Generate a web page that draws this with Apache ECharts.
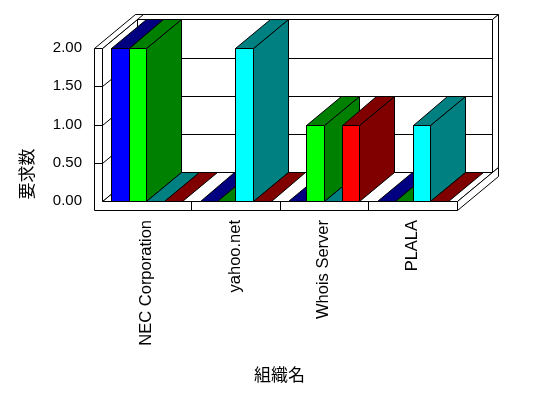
<!DOCTYPE html>
<html>
<head>
<meta charset="utf-8">
<script src="https://cdn.jsdelivr.net/npm/echarts@6/dist/echarts.min.js"></script>
<style>
html,body{margin:0;padding:0;background:#fff;}
#chart{width:548px;height:398px;}
</style>
</head>
<body>
<div id="chart"></div>
<script>
// ---- data ----
const categories = ['NEC Corporation', 'yahoo.net', 'Whois Server', 'PLALA'];
const seriesNames = ['系列1', '系列2', '系列3', '系列4'];
const blueValues = [2, 0, 0, 0];
const limeValues = [2, 0, 1, 0];
const cyanValues = [0, 2, 0, 1];
const redValues  = [0, 0, 1, 0];
const yTicks = [0, 0.5, 1, 1.5, 2];
const xTitle = '組織名';
const yTitle = '要求数';

// ---- styles ----
const frontColors = ['#0000ff', '#00ff00', '#00ffff', '#ff0000'];
const darkColors  = ['#000080', '#008000', '#008080', '#800000'];
const DX = 34.7, DY = -28.7;   // depth vector
const TX = 6, TY = -5;         // back wall thickness
const WALL = 8;                // left wall thickness
const FLOOR = 9;               // floor thickness
const FONT = '"Liberation Sans", Arial, sans-serif';
const CJK = '"Noto Sans CJK JP", sans-serif';

const allValues = [blueValues, limeValues, cyanValues, redValues];

function px(v) { return Math.round(v) + 0.5; }
function poly(points, fill, z2) {
  return {
    type: 'polygon',
    z2: z2 || 0,
    shape: { points: points.map(p => [px(p[0]), px(p[1])]) },
    style: { fill: fill, stroke: '#000', lineWidth: 1 }
  };
}
function line(x1, y1, x2, y2, z2) {
  return {
    type: 'line',
    z2: z2 || 1,
    shape: { x1: px(x1), y1: px(y1), x2: px(x2), y2: px(y2) },
    style: { stroke: '#000', lineWidth: 1 }
  };
}

function renderFrame(params, api) {
  const cs = params.coordSys;
  const L = cs.x, R = cs.x + cs.width, T = cs.y, B = cs.y + cs.height;
  const ch = [];
  // back wall front face
  ch.push(poly([[L + DX, T + DY], [R + DX, T + DY], [R + DX, B + DY], [L + DX, B + DY]], '#fff'));
  // back wall top face
  ch.push(poly([[L + DX, T + DY], [R + DX, T + DY], [R + DX + TX, T + DY + TY], [L - WALL + DX + TX, T + DY + TY]], '#fff'));
  // back wall right face
  ch.push(poly([[R + DX, T + DY], [R + DX + TX, T + DY + TY], [R + DX + TX, B + DY + TY], [R + DX, B + DY]], '#fff'));
  // floor top
  ch.push(poly([[L, B], [R, B], [R + DX, B + DY], [L + DX, B + DY]], '#fff'));
  // floor right face
  ch.push(poly([[R, B], [R + DX + TX, B + DY + TY], [R + DX + TX, B + FLOOR + DY + TY], [R, B + FLOOR]], '#fff'));
  // left wall inner face
  ch.push(poly([[L, T], [L + DX, T + DY], [L + DX, B + DY], [L, B]], '#fff'));
  // left wall top face
  ch.push(poly([[L - WALL, T], [L, T], [L + DX + TX, T + DY + TY], [L - WALL + DX + TX, T + DY + TY]], '#fff'));
  // front L shape
  ch.push(poly([[L - WALL, T], [L, T], [L, B], [R, B], [R, B + FLOOR], [L - WALL, B + FLOOR]], '#fff'));
  // grid lines
  yTicks.forEach(v => {
    if (v === yTicks[0] || v === yTicks[yTicks.length - 1]) return;
    const y = api.coord([0, v])[1];
    ch.push(line(L + DX, y + DY, R + DX, y + DY));
    ch.push(line(L, y, L + DX, y + DY));
    ch.push(line(L - WALL, y, L, y));
  });
  // category dividers on the floor front
  const band = api.size([1, 0])[0];
  for (let i = 0; i < categories.length - 1; i++) {
    const x = api.coord([i, 0])[0] + band / 2;
    ch.push(line(x, B, x, B + FLOOR));
  }
  return { type: 'group', children: ch };
}

function makeBarRender(k) {
  return function (params, api) {
    const ci = api.value(0), v = api.value(1);
    const top = api.coord([ci, v]);
    const base = api.coord([ci, 0]);
    const band = api.size([1, 0])[0];
    const bw = band * 0.2;
    const x0 = top[0] - 2 * bw + k * bw, x1 = x0 + bw;
    const yt = top[1], yb = base[1];
    const ch = [];
    if (yb - yt > 0.5) {
      ch.push(poly([[x0, yt], [x1, yt], [x1, yb], [x0, yb]], frontColors[k]));
      ch.push(poly([[x1, yt], [x1 + DX, yt + DY], [x1 + DX, yb + DY], [x1, yb]], darkColors[k]));
    }
    ch.push(poly([[x0, yt], [x1, yt], [x1 + DX, yt + DY], [x0 + DX, yt + DY]], darkColors[k]));
    return { type: 'group', children: ch };
  };
}

const chart = echarts.init(document.getElementById('chart'), null, { renderer: 'canvas' });

const series = [{
  type: 'custom',
  name: 'frame',
  renderItem: renderFrame,
  data: [[0, 0]],
  encode: { x: 0, y: 1 },
  silent: true,
  z: 1
}];
allValues.forEach((vals, k) => {
  series.push({
    type: 'custom',
    name: seriesNames[k],
    renderItem: makeBarRender(k),
    data: vals.map((v, i) => [i, v]),
    encode: { x: 0, y: 1 },
    z: 2 + k
  });
});

chart.setOption({
  animation: false,
  backgroundColor: '#fff',
  grid: { left: 102, right: 91, top: 48, bottom: 197, containLabel: false, outerBoundsMode: 'none' },
  xAxis: {
    type: 'category',
    data: categories,
    boundaryGap: true,
    axisLine: { show: false },
    axisTick: { show: false },
    splitLine: { show: false },
    axisLabel: { rotate: 90, margin: 19, color: '#000', fontSize: 16.5, fontFamily: FONT, interval: 0 },
    name: xTitle,
    nameLocation: 'middle',
    nameGap: 165,
    nameTextStyle: { color: '#000', fontSize: 17, fontFamily: CJK }
  },
  yAxis: {
    type: 'value',
    min: 0, max: 2, interval: 0.5,
    axisLine: { show: false },
    axisTick: { show: false },
    splitLine: { show: false },
    axisLabel: { margin: 20, color: '#000', fontSize: 15, fontFamily: FONT, formatter: v => v.toFixed(2) }
  },
  graphic: [{
    type: 'text',
    x: 27, y: 174,
    rotation: Math.PI / 2,
    style: { text: yTitle, fill: '#000', font: '17px ' + CJK, textAlign: 'center', textVerticalAlign: 'middle' }
  }],
  series: series
});
</script>
</body>
</html>
